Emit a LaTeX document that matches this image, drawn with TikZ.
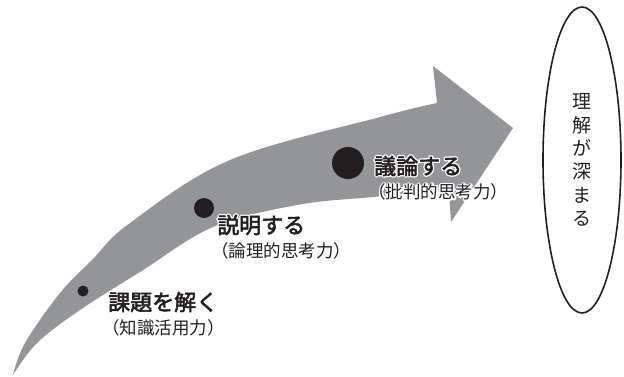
\documentclass[tikz,border=0pt]{standalone}
\usepackage{fontspec}
\newfontfamily\jp{Noto Sans CJK JP}
\newfontfamily\jpmed{Noto Sans CJK JP}[FakeBold=2.5]
\usetikzlibrary{shapes.geometric}
\definecolor{arrowgray}{RGB}{147,149,152}
\definecolor{dotblack}{RGB}{35,31,32}
\newcommand{\halotext}[1]{\leavevmode\rlap{\jp\special{pdf:literal direct 1 Tr 3.2 w 1 1 1 RG 1 j}#1\special{pdf:literal direct 0 Tr 0.137 0.122 0.125 RG}}#1}
\tikzset{
  dotnode/.style={circle, fill=dotblack, inner sep=0pt},
  mainlabel/.style={anchor=west, inner sep=0pt, text=dotblack, font=\jpmed\fontsize{22}{22}\selectfont},
  sublabel/.style={anchor=west, inner sep=0pt, text=dotblack, font=\jp\fontsize{17.5}{17.5}\selectfont},
  goalshape/.style={ellipse, draw=dotblack, line width=1.6pt, minimum width=78pt, minimum height=306pt, inner sep=0pt},
  goaltextstyle/.style={align=center, inner sep=0pt, text=dotblack, font=\jp\fontsize{19}{23.3}\selectfont}
}
\begin{document}
\begin{tikzpicture}[x=1pt,y=-1pt]
\useasboundingbox (0,0) rectangle (624,376);
% curved arrow
\fill[arrowgray]
  plot[smooth,tension=0.6] coordinates {(13,375) (25,343) (60,293) (92,260) (130,223) (230,160) (380,117) (437,103)}
  -- (433,66) -- (513,128) -- (451,222)
  -- plot[smooth,tension=0.6] coordinates {(449,190) (373,197) (297,205) (213,227) (140,272) (80,310) (37,343) (13,375)}
  -- cycle;
% dots
\node[dotnode, minimum size=11pt] (d1) at (83,291) {};
\node[dotnode, minimum size=20pt] (d2) at (204,208) {};
\node[dotnode, minimum size=32pt] (d3) at (348,163) {};
% labels
\node[mainlabel] (l1) at (108,302) {課題を解く};
\node[sublabel] (s1) at (102,328) {（知識活用力）};
\node[mainlabel] (l2) at (217,225) {\halotext{説明する}};
\node[sublabel] (s2) at (211,251) {（論理的思考力）};
\node[mainlabel] (l3) at (374,166) {\halotext{議論する}};
\node[sublabel] (s3) at (368,192) {\halotext{（批判的思考力）}};
% goal ellipse
\node[goalshape] (goal) at (582,160) {};
\node[goaltextstyle] (goaltext) at (goal.center) {理\\解\\が\\深\\ま\\る};
\end{tikzpicture}
\end{document}
